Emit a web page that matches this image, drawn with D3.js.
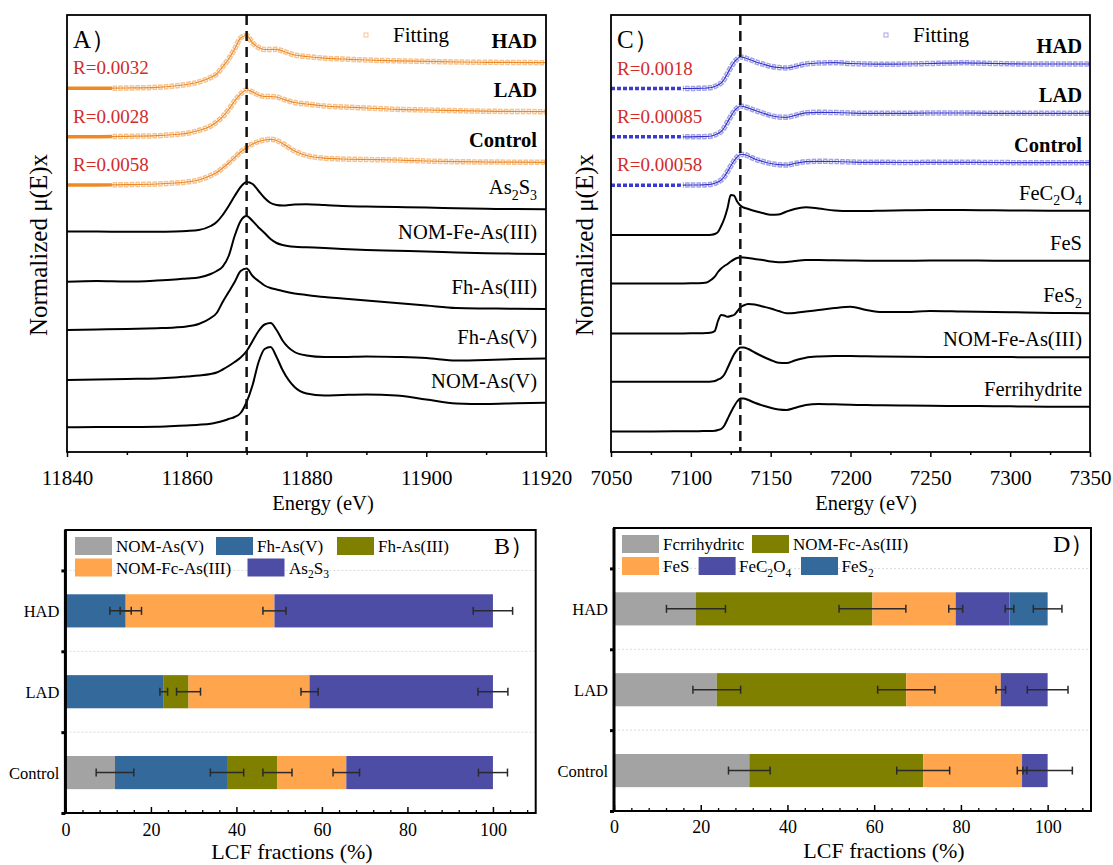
<!DOCTYPE html>
<html>
<head>
<meta charset="utf-8">
<script src="https://cdn.jsdelivr.net/npm/d3@7"></script>
<style>
  body { margin: 0; background: #fff; }
  svg { display: block; }
  text { font-family: "Liberation Serif", "Times New Roman", serif; }
</style>
</head>
<body>
<div id="chart"></div>
<script>
// ---------- Panel A: As K-edge XANES (stacked, normalized) ----------
const energyA = [11840, 11845, 11850, 11855, 11858, 11860, 11862, 11864, 11865, 11866, 11867, 11868, 11869, 11870,
  11871, 11872, 11873, 11874, 11875, 11876, 11878, 11880, 11883, 11886, 11890, 11895, 11900, 11905, 11910, 11915, 11920];
const hadA = [3.637, 3.637, 3.64, 3.647, 3.66, 3.675, 3.70, 3.745, 3.78, 3.853, 3.93, 4.03, 4.14, 4.165, 4.09, 4.045,
  4.025, 4.025, 4.027, 4.01, 3.97, 3.955, 3.938, 3.93, 3.92, 3.912, 3.906, 3.90, 3.897, 3.895, 3.893];
const ladA = [3.153, 3.153, 3.157, 3.163, 3.175, 3.187, 3.215, 3.26, 3.30, 3.353, 3.425, 3.51, 3.58, 3.62, 3.60, 3.57,
  3.555, 3.555, 3.55, 3.53, 3.495, 3.48, 3.46, 3.45, 3.44, 3.427, 3.42, 3.413, 3.408, 3.405, 3.403];
const controlA = [2.67, 2.67, 2.673, 2.68, 2.69, 2.70, 2.72, 2.765, 2.795, 2.84, 2.89, 2.945, 3.00, 3.045, 3.08, 3.105,
  3.12, 3.127, 3.115, 3.085, 3.01, 2.965, 2.938, 2.93, 2.925, 2.92, 2.91, 2.903, 2.90, 2.898, 2.897];
const as2s3A = [2.205, 2.205, 2.202, 2.202, 2.205, 2.21, 2.22, 2.26, 2.30, 2.37, 2.46, 2.56, 2.65, 2.70, 2.68, 2.61,
  2.54, 2.49, 2.47, 2.465, 2.475, 2.478, 2.47, 2.46, 2.455, 2.45, 2.445, 2.437, 2.432, 2.43, 2.427];
const nomFeAs3A = [1.703, 1.71, 1.705, 1.715, 1.725, 1.735, 1.745, 1.78, 1.81, 1.853, 1.96, 2.16, 2.31, 2.36, 2.31, 2.245,
  2.19, 2.13, 2.09, 2.07, 2.052, 2.047, 2.04, 2.03, 2.02, 2.012, 2.005, 1.995, 1.988, 1.983, 1.98];
const fhAs3A = [1.22, 1.225, 1.23, 1.238, 1.245, 1.255, 1.28, 1.34, 1.39, 1.50, 1.60, 1.70, 1.81, 1.835, 1.76, 1.71,
  1.665, 1.64, 1.625, 1.61, 1.585, 1.57, 1.55, 1.535, 1.515, 1.49, 1.465, 1.44, 1.435, 1.432, 1.43];
const fhAs5A = [0.72, 0.725, 0.73, 0.735, 0.745, 0.755, 0.765, 0.78, 0.795, 0.825, 0.86, 0.90, 0.945, 1.01, 1.11, 1.21,
  1.275, 1.29, 1.22, 1.115, 1.00, 0.965, 0.95, 0.95, 0.955, 0.95, 0.94, 0.915, 0.92, 0.93, 0.935];
const nomAs5A = [0.247, 0.25, 0.25, 0.253, 0.26, 0.265, 0.272, 0.283, 0.295, 0.31, 0.33, 0.35, 0.39, 0.50, 0.67, 0.90,
  1.03, 1.05, 0.95, 0.82, 0.65, 0.585, 0.565, 0.57, 0.575, 0.565, 0.525, 0.485, 0.48, 0.487, 0.493];
const namesA = ["HAD", "LAD", "Control", "As_2S_3", "NOM-Fe-As(III)", "Fh-As(III)", "Fh-As(V)", "NOM-As(V)"];
const rA = ["R=0.0032", "R=0.0028", "R=0.0058"];
const ticksA = [11840, 11860, 11880, 11900, 11920];
const minorA = [11850, 11870, 11890, 11910];

// ---------- Panel C: Fe K-edge XANES ----------
const energyC = [7050, 7070, 7090, 7100, 7105, 7110, 7113, 7115, 7117, 7119, 7121, 7123, 7125, 7127, 7129, 7131, 7133,
  7136, 7140, 7145, 7150, 7155, 7160, 7165, 7172, 7180, 7190, 7200, 7210, 7220, 7235, 7250, 7270, 7290, 7310, 7330, 7350];
const hadC = [3.635, 3.635, 3.635, 3.635, 3.637, 3.64, 3.645, 3.655, 3.67, 3.69, 3.73, 3.785, 3.845, 3.895, 3.93, 3.95,
  3.945, 3.93, 3.905, 3.88, 3.857, 3.845, 3.84, 3.855, 3.88, 3.89, 3.893, 3.885, 3.88, 3.878, 3.88, 3.885, 3.892, 3.885,
  3.88, 3.88, 3.88];
const ladC = [3.152, 3.152, 3.152, 3.152, 3.153, 3.155, 3.16, 3.17, 3.185, 3.205, 3.245, 3.30, 3.355, 3.405, 3.44, 3.46,
  3.455, 3.44, 3.417, 3.39, 3.365, 3.35, 3.347, 3.365, 3.392, 3.397, 3.395, 3.39, 3.387, 3.387, 3.387, 3.39, 3.39, 3.387,
  3.387, 3.387, 3.387];
const controlC = [2.668, 2.668, 2.668, 2.67, 2.67, 2.673, 2.678, 2.687, 2.70, 2.72, 2.755, 2.805, 2.86, 2.91, 2.95, 2.975,
  2.975, 2.96, 2.93, 2.905, 2.885, 2.873, 2.87, 2.885, 2.903, 2.907, 2.905, 2.90, 2.897, 2.897, 2.895, 2.897, 2.897, 2.895,
  2.893, 2.893, 2.893];
const feC2O4C = [2.17, 2.17, 2.17, 2.17, 2.17, 2.17, 2.173, 2.18, 2.20, 2.26, 2.335, 2.44, 2.57, 2.565, 2.505, 2.465,
  2.445, 2.43, 2.41, 2.39, 2.372, 2.375, 2.405, 2.43, 2.447, 2.435, 2.415, 2.41, 2.41, 2.413, 2.417, 2.42, 2.42, 2.417,
  2.415, 2.413, 2.413];
const feSC = [1.685, 1.685, 1.685, 1.687, 1.687, 1.695, 1.725, 1.753, 1.80, 1.835, 1.86, 1.88, 1.905, 1.925, 1.94, 1.947,
  1.945, 1.94, 1.93, 1.92, 1.905, 1.897, 1.90, 1.91, 1.92, 1.92, 1.917, 1.915, 1.913, 1.913, 1.913, 1.915, 1.915, 1.913,
  1.913, 1.913, 1.913];
const feS2C = [1.185, 1.185, 1.185, 1.187, 1.187, 1.19, 1.195, 1.21, 1.31, 1.37, 1.365, 1.353, 1.36, 1.37, 1.405, 1.445,
  1.465, 1.48, 1.475, 1.455, 1.435, 1.41, 1.388, 1.39, 1.405, 1.42, 1.44, 1.453, 1.42, 1.40, 1.40, 1.41, 1.405, 1.40,
  1.395, 1.39, 1.387];
const nomFeAs3C = [0.703, 0.703, 0.703, 0.703, 0.703, 0.703, 0.705, 0.71, 0.725, 0.74, 0.775, 0.84, 0.91, 0.975, 1.02,
  1.045, 1.045, 1.03, 0.995, 0.955, 0.92, 0.892, 0.89, 0.915, 0.943, 0.955, 0.96, 0.96, 0.957, 0.955, 0.952, 0.95, 0.95,
  0.95, 0.948, 0.947, 0.947];
const ferrihydriteC = [0.205, 0.205, 0.207, 0.208, 0.208, 0.21, 0.21, 0.212, 0.22, 0.23, 0.265, 0.33, 0.395, 0.455,
  0.505, 0.535, 0.535, 0.52, 0.492, 0.465, 0.442, 0.425, 0.42, 0.44, 0.47, 0.48, 0.477, 0.472, 0.47, 0.467, 0.465,
  0.462, 0.46, 0.458, 0.455, 0.453, 0.453];
const namesC = ["HAD", "LAD", "Control", "FeC_2O_4", "FeS", "FeS_2", "NOM-Fe-As(III)", "Ferrihydrite"];
const rC = ["R=0.0018", "R=0.00085", "R=0.00058"];
const ticksC = [7050, 7100, 7150, 7200, 7250, 7300, 7350];
const minorC = [7075, 7125, 7175, 7225, 7275, 7325];

// ---------- Panels B and D: LCF fractions (%), order Control, LAD, HAD ----------
const samples = ["Control", "LAD", "HAD"];
const fracTicks = [0, 20, 40, 60, 80, 100];
const fracMinor = [4, 8, 12, 16, 24, 28, 32, 36, 44, 48, 52, 56, 64, 68, 72, 76, 84, 88, 92, 96, 104, 108];

const seriesB = ["NOM-As(V)", "Fh-As(V)", "Fh-As(III)", "NOM-Fc-As(III)", "As_2S_3"];
const bNomAs5 = [11.6, 0, 0];
const bFhAs5 = [26.2, 23.0, 14.1];
const bFhAs3 = [11.8, 5.8, 0];
const bNomFeAs3 = [16.1, 28.3, 34.8];
const bAs2S3 = [34.3, 42.9, 51.1];
const bErrNomAs5 = [4.4, 0, 0];
const bErrFhAs5 = [3.9, 0.9, 3.7];
const bErrFhAs3 = [3.4, 2.8, 1.3];
const bErrNomFeAs3 = [3.1, 2.0, 2.7];
const bErrAs2S3 = [3.4, 3.5, 4.6];

const seriesD = ["Fcrrihydritc", "NOM-Fc-As(III)", "FeS", "FeC_2O_4", "FeS_2"];
const dFerri = [31.2, 23.7, 18.9];
const dNomFeAs3 = [40.1, 43.7, 40.7];
const dFeS = [22.8, 21.8, 19.2];
const dFeC2O4 = [5.9, 10.8, 12.4];
const dFeS2 = [0, 0, 8.8];
const dErrFerri = [4.8, 5.5, 6.8];
const dErrNomFeAs3 = [6.1, 6.6, 7.7];
const dErrFeS = [1.1, 1.1, 1.6];
const dErrFeC2O4 = [5.7, 4.7, 1.0];
const dErrFeS2 = [0, 0, 3.3];

// colours
const cGray = "#a3a3a3", cSteel = "#336a9b", cOlive = "#7f7f00", cOrange = "#fea54e", cIndigo = "#4d4da6";

const serif = "'Liberation Serif', 'Times New Roman', serif";
const sans = "'Liberation Sans', Arial, 'Noto Sans CJK SC', sans-serif";

const svg = d3.select("#chart").append("svg").attr("width", 1113).attr("height", 865);
const defs = svg.append("defs");

// write a label with "_n" subscripts
function richText(sel, str, fs) {
  const parts = str.split(/(_\d)/).filter(s => s.length);
  let sub = false;
  parts.forEach(p => {
    if (p[0] === "_") {
      sel.append("tspan").attr("dy", fs * 0.28).attr("font-size", fs * 0.68).text(p.slice(1));
      sub = true;
    } else {
      sel.append("tspan").attr("dy", sub ? -fs * 0.28 : 0).text(p);
      sub = false;
    }
  });
}

// ---------- spectra panel ----------
function drawSpectra(p) {
  const x = d3.scaleLinear().domain(p.domain).range([p.left, p.right]);
  const y = d3.scaleLinear().domain([0, 4.37]).range([452, 15]);
  const g = svg.append("g");

  const line = d3.line()
    .x((d, i) => x(p.energy[i]))
    .y(d => y(d))
    .curve(d3.curveMonotoneX);

  const xf = x(p.fitStart);
  defs.append("clipPath").attr("id", p.id + "pre").append("rect")
    .attr("x", p.left).attr("y", 0).attr("width", xf - p.left).attr("height", 470);
  defs.append("clipPath").attr("id", p.id + "fit").append("rect")
    .attr("x", xf).attr("y", 0).attr("width", p.right - xf).attr("height", 470);

  p.series.forEach((vals, k) => {
    const d = line(vals);
    if (k < 3) {
      // measured data before the fitting range
      g.append("path").attr("d", d).attr("clip-path", `url(#${p.id}pre)`)
        .attr("fill", "none").attr("stroke", p.preColor).attr("stroke-width", 3.4)
        .attr("stroke-dasharray", p.preDash);
      // fit shown as hollow squares
      g.append("path").attr("d", d).attr("clip-path", `url(#${p.id}fit)`)
        .attr("fill", "none").attr("stroke", p.squareColor).attr("stroke-width", 5.5)
        .attr("stroke-dasharray", "4.5 1.2");
      g.append("path").attr("d", d).attr("clip-path", `url(#${p.id}fit)`)
        .attr("fill", "none").attr("stroke", "#fff").attr("stroke-width", 2.6)
        .attr("stroke-dasharray", "2.3 3.4").attr("stroke-dashoffset", 4.6);
      g.append("path").attr("d", d).attr("clip-path", `url(#${p.id}fit)`)
        .attr("fill", "none").attr("stroke", p.lineColor).attr("stroke-width", 1.2);
    } else {
      g.append("path").attr("d", d).attr("fill", "none")
        .attr("stroke", "#000").attr("stroke-width", 2);
    }

    // curve label at right end
    const t = g.append("text")
      .attr("x", p.labelRight)
      .attr("y", y(vals[vals.length - 1]) - p.labelGap)
      .attr("text-anchor", "end")
      .attr("font-size", 20.5)
      .attr("font-weight", k < 3 ? "bold" : "normal");
    richText(t, p.names[k], 20.5);

    if (k < 3) {
      g.append("text")
        .attr("x", p.left + 6)
        .attr("y", y(vals[0]) - 14)
        .attr("font-size", 19)
        .attr("fill", "#d02c2c")
        .text(p.rLabels[k]);
    }
  });

  // edge position
  g.append("line")
    .attr("x1", x(p.edge)).attr("x2", x(p.edge))
    .attr("y1", 15).attr("y2", 452)
    .attr("stroke", "#111").attr("stroke-width", 2.5).attr("stroke-dasharray", "10 6");

  // frame
  g.append("rect")
    .attr("x", p.left).attr("y", 15).attr("width", p.right - p.left).attr("height", 437)
    .attr("fill", "none").attr("stroke", "#000").attr("stroke-width", 1.8);

  // axes
  g.append("g").attr("transform", "translate(0,452)")
    .call(d3.axisBottom(x).tickValues(p.ticks).tickSize(5).tickPadding(13).tickFormat(d3.format("d")))
    .call(a => a.select(".domain").remove())
    .attr("font-family", serif).attr("font-size", 21)
    .call(a => a.selectAll("line").attr("stroke-width", 1.5));
  g.append("g").attr("transform", "translate(0,452)")
    .call(d3.axisBottom(x).tickValues(p.minor).tickSize(3).tickFormat(""))
    .call(a => a.select(".domain").remove())
    .call(a => a.selectAll("line").attr("stroke-width", 1.5));

  g.append("text").attr("x", p.titleX).attr("y", 510)
    .attr("text-anchor", "middle").attr("font-size", 20.5).text("Energy (eV)");
  g.append("text")
    .attr("transform", `translate(${p.yLabelX},245) rotate(-90)`)
    .attr("text-anchor", "middle").attr("dominant-baseline", "central")
    .attr("font-size", 25).text("Normalized μ(E)x");

  // panel letter and fitting legend
  g.append("text").attr("x", p.left + 6).attr("y", 48)
    .attr("font-family", sans).attr("font-size", 25).text(p.letter);
  g.append("rect").attr("x", p.fitLegendX - 2).attr("y", 33).attr("width", 4).attr("height", 4)
    .attr("fill", "#fff").attr("stroke", p.squareColor).attr("stroke-width", 1);
  g.append("text").attr("x", p.fitLegendX + 27).attr("y", 42)
    .attr("font-size", 21).text("Fitting");
}

// ---------- stacked bar panel ----------
function drawBars(p) {
  const x = d3.scaleLinear().domain([0, 110]).range([p.left, p.right]);
  const y = d3.scaleLinear().domain([-0.5, 3]).range([p.bottom, p.top]);
  const g = svg.append("g");
  const barH = (y(0) - y(1)) * 0.41;

  // faint separators
  g.selectAll(".sep").data([0.5, 1.5, 2.5]).enter().append("line")
    .attr("x1", p.left).attr("x2", p.right)
    .attr("y1", d => y(d)).attr("y2", d => y(d))
    .attr("stroke", "#dcdcdc").attr("stroke-width", 1).attr("stroke-dasharray", "2 2");

  // stacked segments
  const segs = [];
  p.samples.forEach((s, c) => {
    let acc = 0;
    p.values.forEach((vals, k) => {
      segs.push({ c, k, x0: acc, x1: acc + vals[c], err: p.errors[k][c] });
      acc += vals[c];
    });
  });

  g.selectAll(".seg").data(segs.filter(d => d.x1 > d.x0)).enter().append("rect")
    .attr("x", d => x(d.x0))
    .attr("y", d => y(d.c) - barH / 2)
    .attr("width", d => x(d.x1) - x(d.x0))
    .attr("height", barH)
    .attr("fill", d => p.colors[d.k]);

  // error bars at each segment end
  const errs = segs.filter(d => d.err > 0);
  const eg = g.append("g").attr("stroke", "#2a2a2a").attr("stroke-width", 1.5);
  eg.selectAll(".eb").data(errs).enter().append("line")
    .attr("x1", d => x(d.x1 - d.err)).attr("x2", d => x(d.x1 + d.err))
    .attr("y1", d => y(d.c)).attr("y2", d => y(d.c));
  eg.selectAll(".capL").data(errs).enter().append("line")
    .attr("x1", d => x(d.x1 - d.err)).attr("x2", d => x(d.x1 - d.err))
    .attr("y1", d => y(d.c) - 4).attr("y2", d => y(d.c) + 4);
  eg.selectAll(".capR").data(errs).enter().append("line")
    .attr("x1", d => x(d.x1 + d.err)).attr("x2", d => x(d.x1 + d.err))
    .attr("y1", d => y(d.c) - 4).attr("y2", d => y(d.c) + 4);

  // frame
  g.append("rect")
    .attr("x", p.left).attr("y", p.top).attr("width", p.right - p.left).attr("height", p.bottom - p.top)
    .attr("fill", "none").attr("stroke", "#000").attr("stroke-width", 2);
  g.append("line").attr("x1", p.left).attr("x2", p.left).attr("y1", p.top).attr("y2", p.bottom)
    .attr("stroke", "#000").attr("stroke-width", 3);

  // left axis: boundary ticks only
  g.append("g").attr("transform", `translate(${p.left},0)`)
    .call(d3.axisLeft(y).tickValues([-0.5, 0.5, 1.5, 2.5]).tickSize(4).tickFormat(""))
    .call(a => a.select(".domain").remove())
    .call(a => a.selectAll("line").attr("stroke-width", 3));

  g.selectAll(".cat").data(p.samples).enter().append("text")
    .attr("x", p.left - 6).attr("y", (d, i) => y(i) + 6)
    .attr("text-anchor", "end").attr("font-size", 16.5).text(d => d);

  // bottom axis (ticks inside)
  g.append("g").attr("transform", `translate(0,${p.bottom})`)
    .call(d3.axisBottom(x).tickValues(fracTicks).tickSize(-6).tickPadding(p.tickPad))
    .call(a => a.select(".domain").remove())
    .attr("font-family", serif).attr("font-size", 18)
    .call(a => a.selectAll("line").attr("stroke-width", 1.5));
  g.append("g").attr("transform", `translate(0,${p.bottom})`)
    .call(d3.axisBottom(x).tickValues(fracMinor).tickSize(-3).tickFormat(""))
    .call(a => a.select(".domain").remove())
    .call(a => a.selectAll("line").attr("stroke-width", 1.3));

  g.append("text").attr("x", p.titleX).attr("y", p.titleY)
    .attr("text-anchor", "middle").attr("font-size", 22).text("LCF fractions (%)");

  // legend
  p.legend.forEach((it, k) => {
    g.append("rect").attr("x", it[0]).attr("y", it[2]).attr("width", 37).attr("height", 18)
      .attr("fill", p.colors[k]);
    const t = g.append("text").attr("x", it[1]).attr("y", it[2] + 15).attr("font-size", 17);
    richText(t, p.series[k], 17);
  });

  g.append("text").attr("x", p.letterX).attr("y", p.letterY)
    .attr("font-family", sans).attr("font-size", 24).text(p.letter);
}

drawSpectra({
  id: "A", energy: energyA, domain: [11840, 11920], left: 67, right: 546,
  series: [hadA, ladA, controlA, as2s3A, nomFeAs3A, fhAs3A, fhAs5A, nomAs5A],
  names: namesA, rLabels: rA, ticks: ticksA, minor: minorA,
  edge: 11870, fitStart: 11847.5,
  lineColor: "#ee8a26", squareColor: "#f6c38f", preColor: "#ee8a26", preDash: null,
  labelRight: 537, labelGap: 15, titleX: 323, yLabelX: 38, letter: "A）", fitLegendX: 366
});

drawSpectra({
  id: "C", energy: energyC, domain: [7050, 7350], left: 611, right: 1090,
  series: [hadC, ladC, controlC, feC2O4C, feSC, feS2C, nomFeAs3C, ferrihydriteC],
  names: namesC, rLabels: rC, ticks: ticksC, minor: minorC,
  edge: 7131, fitStart: 7095,
  lineColor: "#3434cc", squareColor: "#a3a3e6", preColor: "#3a3ad0", preDash: "4 2",
  labelRight: 1082, labelGap: 11, titleX: 866, yLabelX: 584, letter: "C）", fitLegendX: 886
});

drawBars({
  left: 65.4, right: 535.7, top: 530, bottom: 813, samples: samples,
  series: seriesB,
  values: [bNomAs5, bFhAs5, bFhAs3, bNomFeAs3, bAs2S3],
  errors: [bErrNomAs5, bErrFhAs5, bErrFhAs3, bErrNomFeAs3, bErrAs2S3],
  colors: [cGray, cSteel, cOlive, cOrange, cIndigo],
  legend: [[75, 116, 537], [216, 257, 537], [337, 378, 537], [75, 116, 558.5], [247.5, 289, 558.5]],
  tickPad: 10, titleX: 292, titleY: 859, letter: "B）", letterX: 494, letterY: 554
});

drawBars({
  left: 614, right: 1091, top: 528, bottom: 811, samples: samples,
  series: seriesD,
  values: [dFerri, dNomFeAs3, dFeS, dFeC2O4, dFeS2],
  errors: [dErrFerri, dErrNomFeAs3, dErrFeS, dErrFeC2O4, dErrFeS2],
  colors: [cGray, cOlive, cOrange, cIndigo, cSteel],
  legend: [[622, 663, 535], [752, 793, 535], [622, 663, 557], [698.6, 739, 557], [801, 841.5, 557]],
  tickPad: 9, titleX: 884, titleY: 858, letter: "D）", letterX: 1053, letterY: 552
});
</script>
</body>
</html>
